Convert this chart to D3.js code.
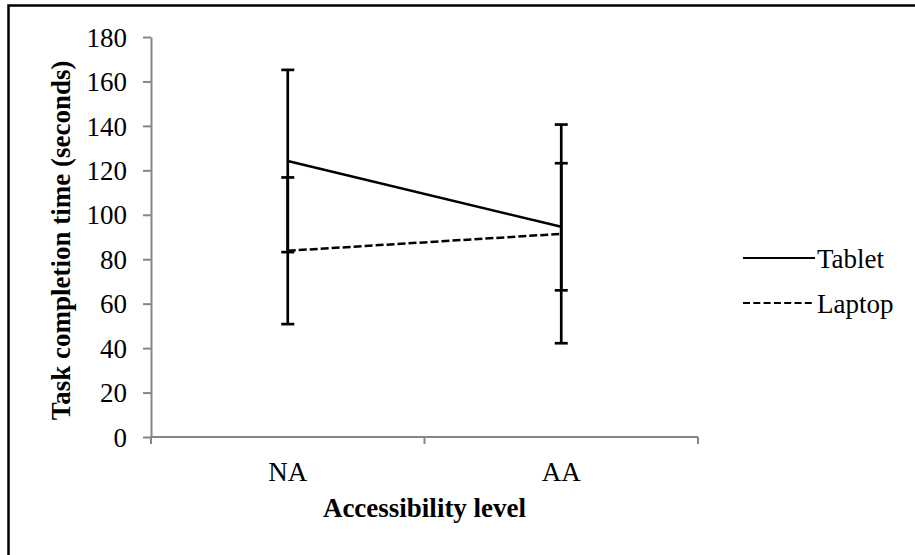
<!DOCTYPE html>
<html>
<head>
<meta charset="utf-8">
<script src="https://cdn.jsdelivr.net/npm/d3@7"></script>
<style>
  body { margin: 0; background: #fff; }
  text { font-family: "Liberation Serif", "Times New Roman", serif; fill: #000; }
</style>
</head>
<body>
<div id="chart"></div>
<script>
var levels = ["NA", "AA"];
var tablet = [124.2, 94.6];
var tabletErr = [41, 28.6];
var laptop = [83.8, 91.4];
var laptopErr = [33, 49.2];
var yTicks = [0, 20, 40, 60, 80, 100, 120, 140, 160, 180];

var serif = '"Liberation Serif", "Times New Roman", serif';

var margin = {
        left: 151,
        right: 217,
        top: 37,
        bottom: 118
    },
    width = 915,
    height = 555;

var svg = d3.select("#chart")
    .append("svg")
    .attr("width", width)
    .attr("height", height);

// frame round the figure
svg.append("rect")
    .attr("x", 8.5).attr("y", 5.5)
    .attr("width", 930).attr("height", 580)
    .attr("fill", "none")
    .attr("stroke", "#000")
    .attr("stroke-width", 2.5);

var x = d3.scaleBand()
    .domain(levels)
    .range([margin.left, width - margin.right]);

var y = d3.scaleLinear()
    .domain([0, 180])
    .range([height - margin.bottom, margin.top]);

var cx = function(d) { return x(d) + x.bandwidth() / 2; };

// y axis
var yAxis = svg.append("g")
    .attr("transform", "translate(" + margin.left + ",0)")
    .call(d3.axisLeft(y).tickValues(yTicks).tickSize(8).tickPadding(16).tickSizeOuter(0))
    .attr("font-family", serif);
yAxis.select(".domain").attr("stroke", "#868686").attr("stroke-width", 2);
yAxis.selectAll(".tick line").attr("stroke", "#868686").attr("stroke-width", 2);
yAxis.selectAll("text")
    .style("font-size", "27px")
    .style("font-family", serif)
    .attr("dy", "0.34em");

// x axis, ticks at band edges
var xAxisG = svg.append("g")
    .attr("transform", "translate(0," + y(0) + ")");
xAxisG.append("line")
    .attr("x1", margin.left).attr("x2", width - margin.right)
    .attr("stroke", "#868686").attr("stroke-width", 2);
var edges = [margin.left].concat(levels.map(function(d) { return x(d) + x.bandwidth(); }));
xAxisG.selectAll(".xt")
    .data(edges)
    .enter().append("line")
    .attr("x1", function(d) { return d; })
    .attr("x2", function(d) { return d; })
    .attr("y1", 0).attr("y2", 7)
    .attr("stroke", "#868686").attr("stroke-width", 2);
xAxisG.selectAll(".xl")
    .data(levels)
    .enter().append("text")
    .attr("x", cx)
    .attr("y", 44)
    .attr("text-anchor", "middle")
    .style("font-size", "27px")
    .style("font-family", serif)
    .text(function(d) { return d; });

// axis titles
svg.append("text")
    .attr("x", (margin.left + width - margin.right) / 2)
    .attr("y", 517)
    .attr("text-anchor", "middle")
    .style("font-size", "27px")
    .style("font-weight", "bold")
    .style("font-family", serif)
    .text("Accessibility level");

svg.append("text")
    .attr("transform", "translate(70," + y(88.5) + ") rotate(-90)")
    .attr("text-anchor", "middle")
    .style("font-size", "27px")
    .style("font-weight", "bold")
    .style("font-family", serif)
    .text("Task completion time (seconds)");

var series = [
    { name: "Tablet", values: tablet, err: tabletErr, dash: null },
    { name: "Laptop", values: laptop, err: laptopErr, dash: "8,3" }
];

var line = d3.line()
    .x(function(d, i) { return cx(levels[i]); })
    .y(function(d) { return y(d); });

series.forEach(function(s) {
    svg.append("path")
        .datum(s.values)
        .attr("d", line)
        .attr("fill", "none")
        .attr("stroke", "#000")
        .attr("stroke-width", 2.5)
        .attr("stroke-dasharray", s.dash);
});

// error bars
series.forEach(function(s) {
    var g = svg.append("g").attr("stroke", "#000").attr("stroke-width", 2.7);
    s.values.forEach(function(v, i) {
        var px = cx(levels[i]),
            lo = y(v - s.err[i]),
            hi = y(v + s.err[i]);
        g.append("line").attr("x1", px).attr("x2", px).attr("y1", lo).attr("y2", hi);
        g.append("line").attr("x1", px - 6.5).attr("x2", px + 6.5).attr("y1", lo).attr("y2", lo);
        g.append("line").attr("x1", px - 6.5).attr("x2", px + 6.5).attr("y1", hi).attr("y2", hi);
    });
});

// legend
var legend = svg.selectAll(".legend")
    .data(series)
    .enter().append("g")
    .attr("transform", function(d, i) { return "translate(743," + (258 + i * 45) + ")"; });
legend.append("line")
    .attr("x1", 0).attr("x2", 72)
    .attr("stroke", "#000")
    .attr("stroke-width", 2.2)
    .attr("stroke-dasharray", function(d) { return d.dash ? "7,3.3" : null; });
legend.append("text")
    .attr("x", 74)
    .attr("y", 10)
    .style("font-size", "27px")
    .style("font-family", serif)
    .text(function(d) { return d.name; });
</script>
</body>
</html>
